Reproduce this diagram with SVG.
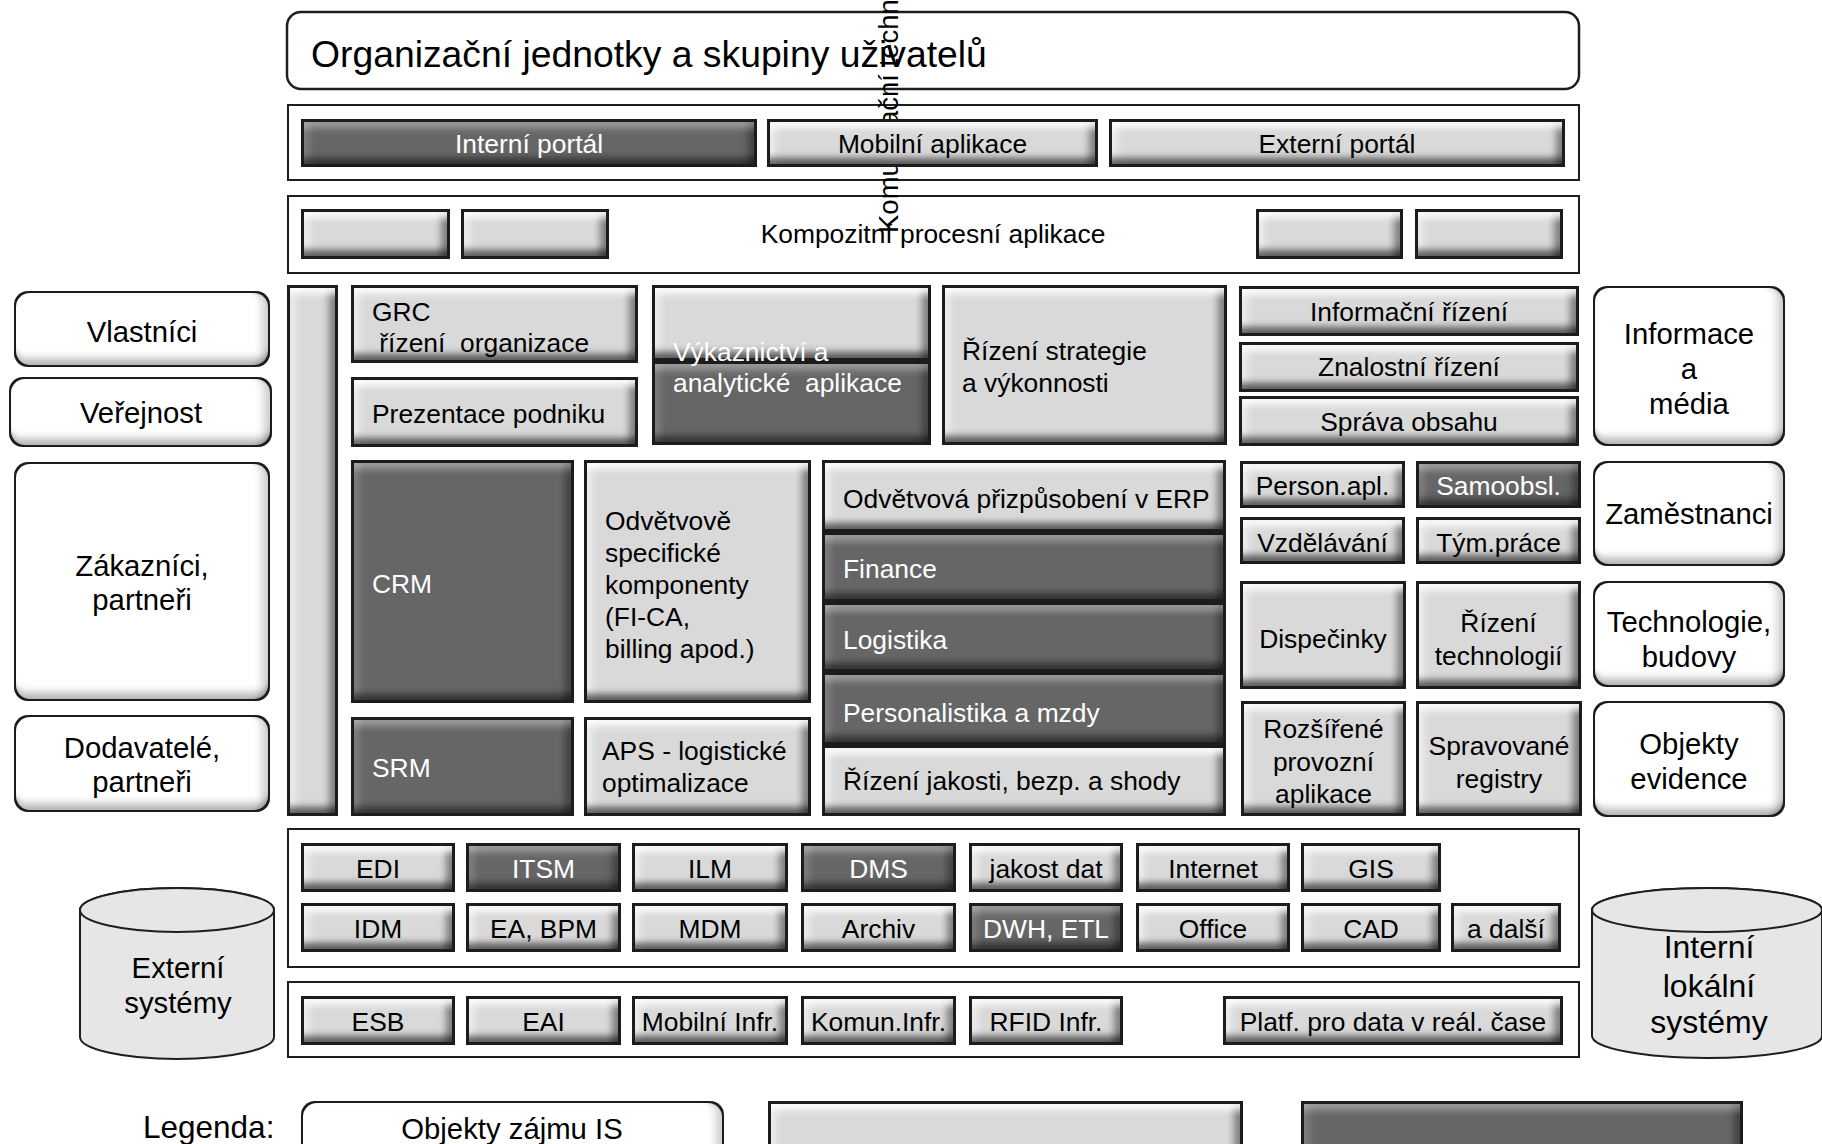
<svg xmlns="http://www.w3.org/2000/svg" width="1822" height="1144" viewBox="0 0 1822 1144">
  <style>
    text { font-family: "Liberation Sans", Arial, Helvetica, sans-serif; font-size: 26.4px; fill: #000; }
    .c { text-anchor: middle; }
    .w { fill: #fff; }
    .big { font-size: 29.3px; }
    .pre { white-space: pre; }
    .lt { fill: #d9d9d9; filter: url(#bevL); }
    .dk { fill: #666666; filter: url(#bevD); }
    .obj { fill: #ffffff; filter: url(#soft); }
    .panel { fill: #ffffff; stroke: #1e1e1e; stroke-width: 2; }
    .cyl { fill: #e6e6e6; stroke: #1e1e1e; stroke-width: 2; }
  </style>
  <defs>
    <!-- bevelled button, light -->
    <filter id="bevL" x="-2%" y="-5%" width="104%" height="110%" color-interpolation-filters="sRGB">
      <feOffset in="SourceAlpha" dy="9" result="a1"/>
      <feGaussianBlur in="a1" stdDeviation="0 3.5" result="a1b"/>
      <feComposite in="SourceAlpha" in2="a1b" operator="out" result="mT"/>
      <feOffset in="SourceAlpha" dx="9" result="a2"/>
      <feGaussianBlur in="a2" stdDeviation="3.5 0" result="a2b"/>
      <feComposite in="SourceAlpha" in2="a2b" operator="out" result="mL"/>
      <feOffset in="SourceAlpha" dy="-9" result="a3"/>
      <feGaussianBlur in="a3" stdDeviation="0 3.5" result="a3b"/>
      <feComposite in="SourceAlpha" in2="a3b" operator="out" result="mB"/>
      <feOffset in="SourceAlpha" dx="-9" result="a4"/>
      <feGaussianBlur in="a4" stdDeviation="3.5 0" result="a4b"/>
      <feComposite in="SourceAlpha" in2="a4b" operator="out" result="mR"/>
      <feMorphology in="SourceAlpha" operator="erode" radius="2.7" result="er"/>
      <feComposite in="SourceAlpha" in2="er" operator="out" result="mE"/>
      <feFlood flood-color="#ffffff" flood-opacity="0.9"/>
      <feComposite in2="mT" operator="in" result="cT"/>
      <feFlood flood-color="#ffffff" flood-opacity="0.5"/>
      <feComposite in2="mL" operator="in" result="cL"/>
      <feFlood flood-color="#000000" flood-opacity="0.58"/>
      <feComposite in2="mB" operator="in" result="cB"/>
      <feFlood flood-color="#000000" flood-opacity="0.42"/>
      <feComposite in2="mR" operator="in" result="cR"/>
      <feFlood flood-color="#1c1c1c"/>
      <feComposite in2="mE" operator="in" result="cE"/>
      <feMerge>
        <feMergeNode in="SourceGraphic"/>
        <feMergeNode in="cL"/>
        <feMergeNode in="cR"/>
        <feMergeNode in="cT"/>
        <feMergeNode in="cB"/>
        <feMergeNode in="cE"/>
      </feMerge>
    </filter>
    <!-- bevelled button, dark -->
    <filter id="bevD" x="-2%" y="-5%" width="104%" height="110%" color-interpolation-filters="sRGB">
      <feOffset in="SourceAlpha" dy="9" result="a1"/>
      <feGaussianBlur in="a1" stdDeviation="0 3.5" result="a1b"/>
      <feComposite in="SourceAlpha" in2="a1b" operator="out" result="mT"/>
      <feOffset in="SourceAlpha" dx="9" result="a2"/>
      <feGaussianBlur in="a2" stdDeviation="3.5 0" result="a2b"/>
      <feComposite in="SourceAlpha" in2="a2b" operator="out" result="mL"/>
      <feOffset in="SourceAlpha" dy="-9" result="a3"/>
      <feGaussianBlur in="a3" stdDeviation="0 3.5" result="a3b"/>
      <feComposite in="SourceAlpha" in2="a3b" operator="out" result="mB"/>
      <feOffset in="SourceAlpha" dx="-9" result="a4"/>
      <feGaussianBlur in="a4" stdDeviation="3.5 0" result="a4b"/>
      <feComposite in="SourceAlpha" in2="a4b" operator="out" result="mR"/>
      <feMorphology in="SourceAlpha" operator="erode" radius="2.7" result="er"/>
      <feComposite in="SourceAlpha" in2="er" operator="out" result="mE"/>
      <feFlood flood-color="#ffffff" flood-opacity="0.35"/>
      <feComposite in2="mT" operator="in" result="cT"/>
      <feFlood flood-color="#ffffff" flood-opacity="0.15"/>
      <feComposite in2="mL" operator="in" result="cL"/>
      <feFlood flood-color="#000000" flood-opacity="0.5"/>
      <feComposite in2="mB" operator="in" result="cB"/>
      <feFlood flood-color="#000000" flood-opacity="0.35"/>
      <feComposite in2="mR" operator="in" result="cR"/>
      <feFlood flood-color="#1c1c1c"/>
      <feComposite in2="mE" operator="in" result="cE"/>
      <feMerge>
        <feMergeNode in="SourceGraphic"/>
        <feMergeNode in="cL"/>
        <feMergeNode in="cR"/>
        <feMergeNode in="cT"/>
        <feMergeNode in="cB"/>
        <feMergeNode in="cE"/>
      </feMerge>
    </filter>
    <!-- white rounded box with soft inner shading -->
    <filter id="soft" x="-2%" y="-5%" width="104%" height="110%" color-interpolation-filters="sRGB">
      <feOffset in="SourceAlpha" dy="-8" result="a3"/>
      <feGaussianBlur in="a3" stdDeviation="0 4" result="a3b"/>
      <feComposite in="SourceAlpha" in2="a3b" operator="out" result="mB"/>
      <feOffset in="SourceAlpha" dx="-8" result="a4"/>
      <feGaussianBlur in="a4" stdDeviation="4 0" result="a4b"/>
      <feComposite in="SourceAlpha" in2="a4b" operator="out" result="mR"/>
      <feMorphology in="SourceAlpha" operator="erode" radius="2.2" result="er"/>
      <feComposite in="SourceAlpha" in2="er" operator="out" result="mE"/>
      <feFlood flood-color="#000000" flood-opacity="0.3"/>
      <feComposite in2="mB" operator="in" result="cB"/>
      <feFlood flood-color="#000000" flood-opacity="0.2"/>
      <feComposite in2="mR" operator="in" result="cR"/>
      <feFlood flood-color="#1c1c1c"/>
      <feComposite in2="mE" operator="in" result="cE"/>
      <feMerge>
        <feMergeNode in="SourceGraphic"/>
        <feMergeNode in="cR"/>
        <feMergeNode in="cB"/>
        <feMergeNode in="cE"/>
      </feMerge>
    </filter>
  </defs>

  <rect width="1822" height="1144" fill="#ffffff"/>

  <!-- user groups header -->
  <g id="organizacni-jednotky">
    <rect x="287" y="12" width="1292" height="77" rx="14" fill="#ffffff" stroke="#1e1e1e" stroke-width="2.5"/>
    <text x="311" y="67" style="font-size:37.3px">Organizační jednotky a skupiny uživatelů</text>
  </g>

  <!-- layer frames -->
  <g id="frames">
    <rect class="panel" x="288" y="105" width="1291" height="75"/>
    <rect class="panel" x="288" y="196" width="1291" height="77"/>
    <rect class="panel" x="288" y="829" width="1291" height="138"/>
    <rect class="panel" x="288" y="982" width="1291" height="75"/>
  </g>

  <g id="komunikacni-technologie">
    <text transform="translate(898,233) rotate(-90)" style="font-size:27.5px">Komunikační technologie</text>
  </g>

  <!-- portal row -->
  <g id="interni-portal"><rect class="dk" x="301" y="119" width="456" height="48"/><text class="c w" x="529" y="153">Interní portál</text></g>
  <g id="mobilni-aplikace"><rect class="lt" x="767" y="119" width="331" height="48"/><text class="c" x="932.5" y="153">Mobilní aplikace</text></g>
  <g id="externi-portal"><rect class="lt" x="1109" y="119" width="456" height="48"/><text class="c" x="1337" y="153">Externí portál</text></g>

  <!-- composite process applications -->
  <g id="kompozitni-aplikace"><text class="c" x="933" y="243">Kompozitní procesní aplikace</text></g>
  <g id="kompozitni-1"><rect class="lt" x="301" y="209" width="149" height="50"/></g>
  <g id="kompozitni-2"><rect class="lt" x="461" y="209" width="148" height="50"/></g>
  <g id="kompozitni-3"><rect class="lt" x="1256" y="209" width="147" height="50"/></g>
  <g id="kompozitni-4"><rect class="lt" x="1415" y="209" width="148" height="50"/></g>

  <!-- stakeholders, left -->
  <g id="vlastnici"><rect class="obj" x="14" y="291" width="256" height="76" rx="14"/><text class="c big" x="142" y="342">Vlastníci</text></g>
  <g id="verejnost"><rect class="obj" x="9" y="377" width="263" height="70" rx="14"/><text class="c big" x="141" y="423">Veřejnost</text></g>
  <g id="zakaznici"><rect class="obj" x="14" y="462" width="256" height="239" rx="14"/><text class="c big" x="142" y="576">Zákazníci,</text><text class="c big" x="142" y="610">partneři</text></g>
  <g id="dodavatele"><rect class="obj" x="14" y="715" width="256" height="97" rx="14"/><text class="c big" x="142" y="758">Dodavatelé,</text><text class="c big" x="142" y="792">partneři</text></g>

  <!-- vertical channel bar -->
  <g id="kanal"><rect class="lt" x="287" y="285" width="51" height="531"/></g>

  <!-- management applications -->
  <g id="grc"><rect class="lt" x="351" y="285" width="287" height="78"/><text x="372" y="321">GRC</text><text class="pre" x="372" y="352"> řízení  organizace</text></g>
  <g id="prezentace-podniku"><rect class="lt" x="351" y="377" width="287" height="70"/><text x="372" y="423">Prezentace podniku</text></g>
  <g id="vykaznictvi">
    <rect class="lt" x="652" y="285" width="279" height="76"/>
    <rect class="dk" x="652" y="361" width="279" height="84"/>
    <text class="w" x="673" y="361">Výkaznictví a</text>
    <text class="w pre" x="673" y="392">analytické  aplikace</text>
  </g>
  <g id="rizeni-strategie"><rect class="lt" x="942" y="285" width="285" height="160"/><text x="962" y="360">Řízení strategie</text><text x="962" y="392">a výkonnosti</text></g>
  <g id="informacni-rizeni"><rect class="lt" x="1239" y="286" width="340" height="50"/><text class="c" x="1409" y="321">Informační řízení</text></g>
  <g id="znalostni-rizeni"><rect class="lt" x="1239" y="342" width="340" height="50"/><text class="c" x="1409" y="376">Znalostní řízení</text></g>
  <g id="sprava-obsahu"><rect class="lt" x="1239" y="396" width="340" height="50"/><text class="c" x="1409" y="431">Správa obsahu</text></g>

  <!-- stakeholders, right -->
  <g id="informace-media"><rect class="obj" x="1593" y="286" width="192" height="160" rx="14"/><text class="c big" x="1689" y="344">Informace</text><text class="c big" x="1689" y="379">a</text><text class="c big" x="1689" y="414">média</text></g>
  <g id="zamestnanci"><rect class="obj" x="1593" y="461" width="192" height="105" rx="14"/><text class="c big" x="1689" y="524">Zaměstnanci</text></g>
  <g id="technologie-budovy"><rect class="obj" x="1593" y="581" width="192" height="106" rx="14"/><text class="c big" x="1689" y="632">Technologie,</text><text class="c big" x="1689" y="667">budovy</text></g>
  <g id="objekty-evidence"><rect class="obj" x="1593" y="701" width="192" height="116" rx="14"/><text class="c big" x="1689" y="754">Objekty</text><text class="c big" x="1689" y="789">evidence</text></g>

  <!-- business applications -->
  <g id="crm"><rect class="dk" x="351" y="460" width="223" height="243"/><text class="w" x="372" y="593">CRM</text></g>
  <g id="srm"><rect class="dk" x="351" y="717" width="223" height="99"/><text class="w" x="372" y="777">SRM</text></g>
  <g id="odvetvove-komponenty"><rect class="lt" x="584" y="460" width="227" height="243"/>
    <text x="605" y="530">Odvětvově</text><text x="605" y="562">specifické</text><text x="605" y="594">komponenty</text><text x="605" y="626">(FI-CA,</text><text x="605" y="658">billing apod.)</text></g>
  <g id="aps"><rect class="lt" x="584" y="717" width="227" height="99"/><text x="602" y="760">APS - logistické</text><text x="602" y="792">optimalizace</text></g>

  <g id="erp-odvetvova"><rect class="lt" x="822" y="460" width="404" height="72"/><text x="843" y="508">Odvětvová přizpůsobení v ERP</text></g>
  <g id="finance"><rect class="dk" x="822" y="532" width="404" height="70"/><text class="w" x="843" y="578">Finance</text></g>
  <g id="logistika"><rect class="dk" x="822" y="602" width="404" height="70"/><text class="w" x="843" y="649">Logistika</text></g>
  <g id="personalistika"><rect class="dk" x="822" y="672" width="404" height="73"/><text class="w" x="843" y="722">Personalistika a mzdy</text></g>
  <g id="rizeni-jakosti"><rect class="lt" x="822" y="745" width="404" height="71"/><text x="843" y="790">Řízení jakosti, bezp. a shody</text></g>

  <g id="person-apl"><rect class="lt" x="1240" y="461" width="165" height="47"/><text class="c" x="1322.5" y="495">Person.apl.</text></g>
  <g id="samoobsl"><rect class="dk" x="1416" y="461" width="165" height="47"/><text class="c w" x="1498.5" y="495">Samoobsl.</text></g>
  <g id="vzdelavani"><rect class="lt" x="1240" y="517" width="165" height="47"/><text class="c" x="1322.5" y="552">Vzdělávání</text></g>
  <g id="tym-prace"><rect class="lt" x="1416" y="517" width="165" height="47"/><text class="c" x="1498.5" y="552">Tým.práce</text></g>
  <g id="dispecinky"><rect class="lt" x="1240" y="581" width="166" height="108"/><text class="c" x="1323" y="648">Dispečinky</text></g>
  <g id="rizeni-technologii"><rect class="lt" x="1416" y="581" width="165" height="108"/><text class="c" x="1498.5" y="632">Řízení</text><text class="c" x="1498.5" y="665">technologií</text></g>
  <g id="rozsirene-aplikace"><rect class="lt" x="1241" y="701" width="165" height="115"/><text class="c" x="1323.5" y="738">Rozšířené</text><text class="c" x="1323.5" y="771">provozní</text><text class="c" x="1323.5" y="803">aplikace</text></g>
  <g id="spravovane-registry"><rect class="lt" x="1416" y="701" width="166" height="115"/><text class="c" x="1499" y="755">Spravované</text><text class="c" x="1499" y="788">registry</text></g>

  <!-- platform services -->
  <g id="edi"><rect class="lt" x="301" y="843" width="154" height="49"/><text class="c" x="378" y="878">EDI</text></g>
  <g id="itsm"><rect class="dk" x="466" y="843" width="155" height="49"/><text class="c w" x="543.5" y="878">ITSM</text></g>
  <g id="ilm"><rect class="lt" x="632" y="843" width="156" height="49"/><text class="c" x="710" y="878">ILM</text></g>
  <g id="dms"><rect class="dk" x="801" y="843" width="155" height="49"/><text class="c w" x="878.5" y="878">DMS</text></g>
  <g id="jakost-dat"><rect class="lt" x="969" y="843" width="154" height="49"/><text class="c" x="1046" y="878">jakost dat</text></g>
  <g id="internet"><rect class="lt" x="1136" y="843" width="154" height="49"/><text class="c" x="1213" y="878">Internet</text></g>
  <g id="gis"><rect class="lt" x="1301" y="843" width="140" height="49"/><text class="c" x="1371" y="878">GIS</text></g>

  <g id="idm"><rect class="lt" x="301" y="903" width="154" height="49"/><text class="c" x="378" y="938">IDM</text></g>
  <g id="ea-bpm"><rect class="lt" x="466" y="903" width="155" height="49"/><text class="c" x="543.5" y="938">EA, BPM</text></g>
  <g id="mdm"><rect class="lt" x="632" y="903" width="156" height="49"/><text class="c" x="710" y="938">MDM</text></g>
  <g id="archiv"><rect class="lt" x="801" y="903" width="155" height="49"/><text class="c" x="878.5" y="938">Archiv</text></g>
  <g id="dwh-etl"><rect class="dk" x="969" y="903" width="154" height="49"/><text class="c w" x="1046" y="938">DWH, ETL</text></g>
  <g id="office"><rect class="lt" x="1136" y="903" width="154" height="49"/><text class="c" x="1213" y="938">Office</text></g>
  <g id="cad"><rect class="lt" x="1301" y="903" width="140" height="49"/><text class="c" x="1371" y="938">CAD</text></g>
  <g id="a-dalsi"><rect class="lt" x="1451" y="903" width="110" height="49"/><text class="c" x="1506" y="938">a další</text></g>

  <!-- infrastructure -->
  <g id="esb"><rect class="lt" x="301" y="996" width="154" height="49"/><text class="c" x="378" y="1031">ESB</text></g>
  <g id="eai"><rect class="lt" x="466" y="996" width="155" height="49"/><text class="c" x="543.5" y="1031">EAI</text></g>
  <g id="mobilni-infr"><rect class="lt" x="632" y="996" width="156" height="49"/><text class="c" x="710" y="1031">Mobilní Infr.</text></g>
  <g id="komun-infr"><rect class="lt" x="801" y="996" width="155" height="49"/><text class="c" x="878.5" y="1031">Komun.Infr.</text></g>
  <g id="rfid-infr"><rect class="lt" x="969" y="996" width="154" height="49"/><text class="c" x="1046" y="1031">RFID Infr.</text></g>
  <g id="platforma-realtime"><rect class="lt" x="1223" y="996" width="340" height="49"/><text class="c" x="1393" y="1031">Platf. pro data v reál. čase</text></g>

  <!-- data stores -->
  <g id="externi-systemy">
    <path class="cyl" d="M80,910 A97,22 0 0 1 274,910 V1037 A97,22 0 0 1 80,1037 Z"/>
    <ellipse class="cyl" cx="177" cy="910" rx="97" ry="22"/>
    <text class="c big" x="178" y="978">Externí</text>
    <text class="c big" x="178" y="1013">systémy</text>
  </g>
  <g id="interni-systemy">
    <path class="cyl" d="M1592,910 A115,22 0 0 1 1822,910 V1036 A115,22 0 0 1 1592,1036 Z"/>
    <ellipse class="cyl" cx="1707" cy="910" rx="115" ry="22"/>
    <text class="c" style="font-size:32px" x="1709" y="958">Interní</text>
    <text class="c" style="font-size:32px" x="1709" y="997">lokální</text>
    <text class="c" style="font-size:32px" x="1709" y="1033">systémy</text>
  </g>

  <!-- legend -->
  <g id="legenda">
    <text x="143" y="1138" style="font-size:31.5px">Legenda:</text>
    <rect class="obj" x="301" y="1101" width="423" height="70" rx="14"/>
    <text class="c big" x="512" y="1139">Objekty zájmu IS</text>
    <rect class="lt" x="768" y="1101" width="475" height="70"/>
    <rect class="dk" x="1301" y="1101" width="442" height="70"/>
  </g>
</svg>
